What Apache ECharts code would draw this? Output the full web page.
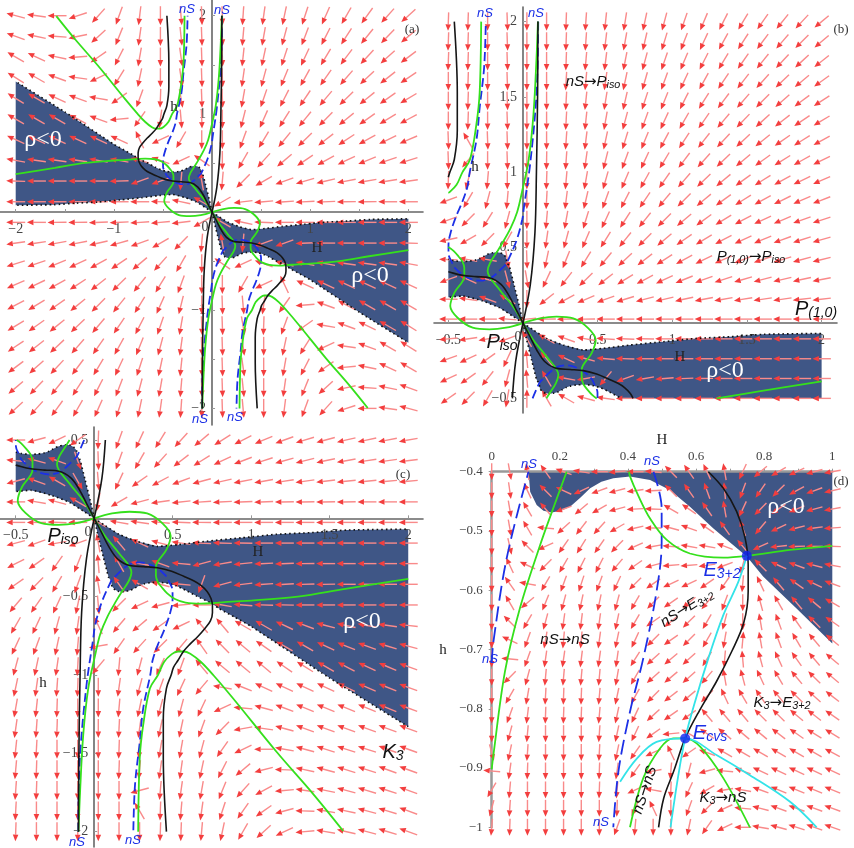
<!DOCTYPE html>
<html><head><meta charset="utf-8">
<style>html,body{margin:0;padding:0;background:#fff}#c{width:854px;height:848px}</style>
<script src="https://cdn.jsdelivr.net/npm/echarts@6/dist/echarts.min.js"></script>
</head><body><div id="c"></div>
<script>
// ---------- DATA ----------
const aCols=[-2,-1.789,-1.579,-1.368,-1.158,-0.947,-0.737,-0.526,-0.316,-0.105,0.105,0.316,0.526,0.737,0.947,1.158,1.368,1.579,1.789,2];
const aRows=[2,1.789,1.579,1.368,1.158,0.947,0.737,0.526,0.316,0.105,-0.105,-0.316,-0.526,-0.737,-0.947,-1.158,-1.368,-1.579,-1.789,-2];
const aAngles=[
[165,172,180,198,228,250,263,270,275,272,272,266,262,258,252,246,240,234,228,222],
[160,168,176,192,222,248,262,270,276,272,272,265,260,255,249,243,237,231,226,220],
[150,155,168,185,215,243,260,270,278,272,272,264,258,252,245,239,233,227,222,217],
[148,150,160,172,205,238,258,270,278,272,272,262,255,248,241,235,229,223,218,214],
[148,150,155,160,170,215,250,268,280,272,272,260,251,243,236,230,224,219,215,211],
[150,150,150,152,160,185,235,262,275,272,270,256,246,238,231,225,219,215,211,208],
[155,155,155,155,155,155,115,205,240,270,270,250,239,231,224,218,213,209,206,203],
[170,172,172,172,170,170,165,160,205,145,270,240,228,220,214,209,205,202,199,197],
[178,180,180,180,180,182,200,200,265,100,265,225,210,200,196,193,191,190,189,188],
[180,180,180,180,180,180,180,178,168,150,210,187,185,184,183,182,181,181,180,180],
[180,180,181,181,182,183,184,185,187,210,150,168,178,180,180,180,180,180,180,180],
[188,189,190,191,193,196,200,210,225,265,100,265,200,200,182,180,180,180,180,178],
[197,199,202,205,209,214,220,228,240,270,145,205,160,165,170,170,172,172,172,170],
[203,206,209,213,218,224,231,239,250,270,270,240,205,115,155,155,155,155,155,155],
[208,211,215,219,225,231,238,246,256,270,272,275,262,235,185,160,152,150,150,150],
[211,215,219,224,230,236,243,251,260,272,272,280,268,250,215,170,160,155,150,148],
[214,218,223,229,235,241,248,255,262,272,272,278,270,258,238,205,172,160,150,148],
[217,222,227,233,239,245,252,258,264,272,272,278,270,260,243,215,185,168,155,150],
[220,226,231,237,243,249,255,260,265,272,272,276,270,262,248,222,192,176,168,160],
[222,228,234,240,246,252,258,262,266,272,272,275,270,263,250,228,198,180,172,165]];

const bCols=[-0.5,-0.368,-0.237,-0.105,0.026,0.158,0.289,0.421,0.553,0.684,0.816,0.947,1.079,1.211,1.342,1.474,1.605,1.737,1.868,2];
const bRows=[2,1.868,1.737,1.605,1.474,1.342,1.211,1.079,0.947,0.816,0.684,0.553,0.421,0.289,0.158,0.026,-0.105,-0.237,-0.368,-0.5];
const bAngles=[
[268,268,270,272,270,270,268,266,264,261,258,255,251,247,243,239,235,231,227,220],
[268,268,270,272,270,270,268,266,263,260,257,253,249,245,241,237,233,229,225,220],
[268,268,270,272,270,270,268,265,263,259,255,251,247,243,239,235,231,227,223,218],
[270,268,270,272,270,270,267,265,262,258,254,250,245,241,236,232,228,224,220,216],
[270,268,270,272,270,270,267,264,261,257,252,248,243,238,233,229,225,221,217,213],
[270,268,270,272,270,270,267,264,260,255,250,245,240,235,230,226,222,218,214,211],
[272,120,272,272,270,270,266,263,258,253,248,242,237,232,227,223,219,215,212,209],
[272,230,270,272,270,269,266,262,256,250,245,239,233,228,224,220,216,212,209,206],
[268,255,265,270,270,268,265,260,254,247,241,235,229,224,220,216,212,209,206,203],
[200,240,255,265,270,267,263,257,250,243,236,230,225,220,216,212,209,206,203,201],
[200,225,238,255,270,265,260,253,245,237,231,225,220,216,212,208,205,203,200,198],
[192,210,225,240,270,262,255,247,238,231,225,220,215,211,208,205,202,200,198,196],
[178,170,170,280,272,258,248,238,230,223,218,213,209,206,203,201,199,197,195,194],
[200,155,165,285,280,245,232,224,218,212,208,205,202,200,198,196,195,193,192,191],
[180,172,160,150,270,218,208,203,200,197,195,193,192,191,190,189,188,188,187,187],
[180,180,180,175,185,181,181,181,180,180,180,180,180,180,180,180,180,180,180,180],
[185,188,190,200,120,150,160,170,176,178,179,180,180,180,180,180,180,180,180,180],
[200,205,215,245,95,130,155,165,175,178,180,180,180,180,180,180,180,180,180,180],
[205,215,232,255,95,120,170,190,230,200,190,185,182,181,180,180,180,180,180,180],
[215,225,240,260,90,120,150,165,172,180,180,180,180,180,180,180,180,180,180,180]];

const cCols=bCols;
const cRows=[0.5,0.368,0.237,0.105,-0.026,-0.158,-0.289,-0.421,-0.553,-0.684,-0.816,-0.947,-1.079,-1.211,-1.342,-1.474,-1.605,-1.737,-1.868,-2];
const cAngles=[
[180,195,205,215,268,250,245,238,228,220,212,207,203,200,197,195,193,192,191,190],
[175,165,160,290,272,250,240,228,218,212,205,201,198,196,194,192,190,189,188,187],
[195,160,150,300,275,245,215,208,200,195,193,191,190,189,188,187,186,186,185,185],
[180,170,165,150,260,210,195,188,186,184,183,182,182,181,181,181,181,180,180,180],
[180,180,178,180,150,170,172,175,178,179,180,180,180,180,180,180,180,180,180,180],
[195,200,190,200,100,130,155,165,172,177,178,179,180,180,180,180,180,180,180,180],
[207,215,235,248,95,120,170,160,175,195,190,186,183,182,181,180,180,180,180,180],
[215,225,240,250,100,125,150,165,175,250,195,187,184,183,182,181,180,180,180,180],
[230,235,245,258,275,225,205,195,185,180,170,175,178,179,180,180,180,180,180,180],
[240,245,255,262,115,230,220,215,205,130,130,150,150,155,160,165,168,170,172,174],
[245,250,258,265,190,235,228,225,230,125,135,140,145,150,150,155,158,160,163,165],
[255,258,262,267,230,265,255,245,250,130,140,140,140,145,148,150,152,155,157,160],
[258,262,266,268,270,262,255,250,245,230,170,158,155,155,155,155,155,157,158,160],
[260,264,268,270,270,265,258,255,255,245,205,175,165,160,158,158,158,158,158,160],
[262,266,268,270,270,267,262,258,258,250,225,190,172,165,160,160,160,160,160,160],
[264,267,270,270,270,268,265,260,260,255,235,205,180,170,165,162,162,162,160,160],
[265,268,270,270,270,268,265,262,262,258,243,220,195,178,168,165,163,162,160,160],
[266,268,270,270,270,270,195,265,262,260,248,228,208,185,172,168,165,163,162,160],
[267,270,270,270,270,270,120,268,265,262,252,235,215,195,178,170,168,165,163,160],
[268,270,270,270,270,270,270,268,268,265,258,240,222,205,185,170,167,165,163,160]];

const dCols=[0,0.053,0.105,0.158,0.211,0.263,0.316,0.368,0.421,0.474,0.526,0.579,0.632,0.684,0.737,0.789,0.842,0.895,0.947,1];
const dRows=[-0.4,-0.432,-0.463,-0.495,-0.526,-0.558,-0.589,-0.621,-0.653,-0.684,-0.716,-0.747,-0.779,-0.811,-0.842,-0.874,-0.905,-0.937,-0.968,-1];
const dAngles=[
[270,280,100,125,160,170,180,185,180,175,135,125,115,100,245,220,210,205,195,190],
[270,278,115,135,155,205,200,195,188,183,135,125,110,95,250,235,225,208,200,193],
[270,280,120,130,200,220,210,195,183,178,150,145,125,100,245,225,215,202,195,190],
[270,280,120,175,222,232,228,210,193,180,165,160,145,125,110,230,205,195,188,184],
[270,283,135,205,235,238,235,225,205,190,175,170,170,160,130,205,186,182,180,178],
[270,115,155,225,240,243,243,230,215,195,185,185,188,200,255,135,155,160,165,170],
[270,125,170,240,250,252,250,245,225,215,205,205,215,235,265,115,130,145,155,160],
[270,120,220,248,255,258,258,255,240,225,215,220,230,250,270,105,120,130,140,150],
[270,135,240,255,262,263,262,258,240,215,220,225,240,255,270,100,110,125,135,145],
[270,155,250,260,265,265,262,258,245,225,215,225,240,260,85,100,110,120,130,140],
[270,175,250,262,262,263,262,262,238,222,220,222,238,265,95,105,115,125,130,140],
[270,225,255,265,265,265,265,260,240,222,220,222,230,100,105,115,120,130,135,140],
[270,240,260,267,268,268,265,258,240,225,218,220,225,115,120,125,130,135,138,142],
[270,250,263,268,268,268,265,258,245,222,215,215,130,130,130,135,135,140,142,145],
[270,255,265,270,270,270,266,258,245,215,185,150,145,140,140,140,142,145,148,148],
[285,258,266,270,270,270,267,258,235,205,115,215,160,150,150,150,150,150,150,152],
[175,262,268,270,270,270,268,262,235,190,265,255,195,175,160,155,155,155,155,155],
[240,265,270,270,270,270,268,265,205,170,268,245,210,190,170,160,158,158,158,158],
[255,266,270,270,270,270,270,268,245,115,270,250,225,205,175,165,160,160,160,160],
[265,268,270,270,270,270,270,250,265,270,270,258,235,205,180,170,165,162,160,160]];

const rhoUpper=[[0,0],[0.069,-0.046],[0.158,-0.102],[0.27,-0.146],[0.404,-0.179],[0.538,-0.168],[0.717,-0.146],[0.94,-0.124],[1.163,-0.102],[1.386,-0.091],[1.61,-0.075],[2,-0.069]];
const rhoLower=[[0,0],[0.025,-0.113],[0.058,-0.246],[0.092,-0.378],[0.108,-0.4],[0.113,-0.434],[0.132,-0.456],[0.152,-0.466],[0.176,-0.469],[0.203,-0.466],[0.23,-0.459],[0.26,-0.444],[0.289,-0.428],[0.322,-0.417],[0.357,-0.411],[0.406,-0.408],[0.465,-0.414],[0.523,-0.431],[0.582,-0.459],[0.651,-0.496],[0.749,-0.543],[0.797,-0.577],[0.895,-0.631],[1,-0.69],[1.5,-1.02],[2,-1.33]];
const blackBranch=[[0,0],[0.047,-0.091],[0.092,-0.179],[0.147,-0.257],[0.225,-0.301],[0.315,-0.308],[0.404,-0.316],[0.493,-0.338],[0.57,-0.37],[0.636,-0.4],[0.68,-0.428],[0.719,-0.467],[0.744,-0.512],[0.753,-0.557],[0.753,-0.602],[0.74,-0.655],[0.705,-0.703],[0.66,-0.754],[0.61,-0.803],[0.568,-0.85],[0.534,-0.906],[0.505,-0.951],[0.49,-1],[0.46,-1.085],[0.44,-1.277],[0.44,-1.53],[0.46,-2]];
const blackAxis=[[0,0],[-0.049,-0.255],[-0.08,-0.6],[-0.09,-1],[-0.098,-1.53],[-0.1,-2]];
const greenA=[[0,0],[0.114,0.031],[0.225,0.042],[0.337,0.031],[0.438,-0.035],[0.487,-0.113],[0.46,-0.2],[0.393,-0.31],[0.393,-0.367],[0.406,-0.408],[0.43,-0.44],[0.465,-0.479],[0.514,-0.515],[0.582,-0.538],[0.68,-0.545],[0.749,-0.542],[0.876,-0.532],[1,-0.525],[1.297,-0.5],[1.6,-0.45],[2,-0.387]];
const greenB=[[0,0],[0.069,-0.113],[0.158,-0.223],[0.237,-0.345],[0.22,-0.4],[0.176,-0.469],[0.142,-0.524],[0.083,-0.63],[0.039,-0.737],[0.005,-0.878],[-0.038,-1.085],[-0.07,-1.383],[-0.09,-1.745],[-0.1,-2]];
const greenC=[[0.28,-2],[0.29,-1.532],[0.312,-1.319],[0.355,-1.085],[0.406,-1],[0.445,-0.917],[0.494,-0.867],[0.533,-0.85],[0.568,-0.85],[0.612,-0.864],[0.68,-0.917],[0.758,-1],[0.885,-1.15],[1.161,-1.49],[1.395,-1.76],[1.586,-1.996]];
const blueNS=[[-0.102,-2],[-0.091,-1.532],[-0.049,-1.064],[-0.006,-0.766],[0.005,-0.687],[0.044,-0.546],[0.108,-0.4],[0.121,-0.383],[0.217,-0.298],[0.291,-0.281],[0.386,-0.309],[0.46,-0.37],[0.475,-0.4],[0.499,-0.462],[0.499,-0.518],[0.484,-0.602],[0.445,-0.715],[0.406,-0.805],[0.372,-0.906],[0.357,-1],[0.312,-1.213],[0.29,-1.43],[0.26,-1.7],[0.249,-2]];
const cyanA=[[0.749,-0.542],[0.724,-0.586],[0.68,-0.642],[0.636,-0.715],[0.597,-0.788],[0.568,-0.85],[0.548,-0.912],[0.525,-1]];
const cyanB=[[0.377,-0.923],[0.426,-0.884],[0.484,-0.856],[0.568,-0.85],[0.66,-0.878],[0.758,-0.912],[0.876,-0.957],[0.954,-1]];
const equilibria=[[0.749,-0.542],[0.568,-0.85]];

const aXTicks=[-2,-1,1,2], aYTicks=[-2,-1,1,2];
const bXTicks=[-0.5,0.5,1,1.5,2], bYTicks=[-0.5,0.5,1,1.5,2];
const cXTicks=[-0.5,0.5,1,1.5,2], cYTicks=[-2,-1.5,-1,-0.5,0.5];
const dXTicks=[0,0.2,0.4,0.6,0.8,1], dYTicks=[-1,-0.9,-0.8,-0.7,-0.6,-0.5,-0.4];

// ---------- helpers ----------
const neg=p=>p.map(q=>[-q[0],-q[1]]);
const RED='#f33e3e', NAVY='#3f5686', GREEN='#35e01c', BLUE='#1c30e6', CYAN='#33e3e8', BLACK='#161616';
function clipLine(pts,b){ // Liang-Barsky, returns visible runs
  const runs=[];let cur=null;
  for(let i=0;i<pts.length-1;i++){
    const [x0,y0]=pts[i],[x1,y1]=pts[i+1],dx=x1-x0,dy=y1-y0;
    let t0=0,t1=1,ok=true;
    [[-dx,x0-b.x0],[dx,b.x1-x0],[-dy,y0-b.y0],[dy,b.y1-y0]].forEach(([p,q])=>{
      if(p===0){if(q<0)ok=false;}
      else{const r=q/p;if(p<0)t0=Math.max(t0,r);else t1=Math.min(t1,r);}
    });
    if(!ok||t0>t1){cur=null;continue;}
    const A=[x0+t0*dx,y0+t0*dy],B=[x0+t1*dx,y0+t1*dy];
    if(cur&&t0===0)cur.push(B);else{cur=[A,B];runs.push(cur);}
    if(t1<1)cur=null;
  }
  return runs;
}
function clipPoly(pts,b){ // Sutherland-Hodgman
  const edges=[[q=>q[0]>=b.x0,0,b.x0],[q=>q[0]<=b.x1,0,b.x1],[q=>q[1]>=b.y0,1,b.y0],[q=>q[1]<=b.y1,1,b.y1]];
  let out=pts;
  edges.forEach(([ins,ax,v])=>{
    const inp=out;out=[];
    inp.forEach((q,i)=>{
      const p=inp[(i+inp.length-1)%inp.length];
      const qi=ins(q),pi=ins(p);
      if(qi!==pi){const t=(v-p[ax])/(q[ax]-p[ax]);out.push([p[0]+t*(q[0]-p[0]),p[1]+t*(q[1]-p[1])]);}
      if(qi)out.push(q);
    });
  });
  return out;
}
const panels=[
 {cols:aCols,rows:aRows,ang:aAngles,len:19,b:{x0:-2,x1:2,y0:-2,y1:2},
  grid:{left:0,top:0,width:423,height:425},xr:[-2.16,2.149],yr:[-2.169,2.16],xt:aXTicks,yt:aYTicks,
  xm:[-2,-1.5,-1,-0.5,0.5,1,1.5,2],ym:[-2,-1.5,-1,-0.5,0.5,1,1.5,2]},
 {cols:bCols,rows:bRows,ang:bAngles,len:18.5,b:{x0:-0.5,x1:2,y0:-0.5,y1:2},
  grid:{left:434,top:7,width:403,height:406},xr:[-0.596,2.103],yr:[-0.597,2.097],xt:bXTicks,yt:bYTicks,
  xm:bXTicks,ym:bYTicks},
 {cols:cCols,rows:cRows,ang:cAngles,len:19,b:{x0:-0.5,x1:2,y0:-2,y1:0.5},
  grid:{left:0,top:427,width:423,height:420},xr:[-0.6,2.094],yr:[-2.098,0.583],xt:cXTicks,yt:cYTicks,
  xm:cXTicks,ym:cYTicks},
 {cols:dCols,rows:dRows,ang:dAngles,len:17,b:{x0:0,x1:1,y0:-1,y1:-0.4},
  grid:{left:491.7,top:471.7,width:340.6,height:355.6},xr:[0,1],yr:[-1,-0.4],xt:dXTicks,yt:dYTicks,
  xm:[0,0.1,0.2,0.3,0.4,0.5,0.6,0.7,0.8,0.9,1],ym:dYTicks,top:true}
];
const fmt=v=>String(v).replace('-','\u2212');
const series=[],grids=[],xAxes=[],yAxes=[];
panels.forEach((P,i)=>{
  grids.push({...P.grid,outerBoundsMode:'none',containLabel:false});
  const AL={show:true,onZero:!P.top,lineStyle:{color:P.top?'#999':'#666',width:P.top?2.5:1.6}};
  const lab={color:'#444',fontFamily:'Liberation Serif',fontSize:P.top?13:14,formatter:fmt};
  // tick labels sit beside the zero lines in panels a-c, so their margins reach in from the grid edge
  const zeroY=P.grid.height*P.yr[1]/(P.yr[1]-P.yr[0]);
  const zeroX=P.grid.width*(-P.xr[0])/(P.xr[1]-P.xr[0]);
  const xMargin=P.top?9:zeroY-P.grid.height+10;
  const yMargin=P.top?9:6-zeroX;
  xAxes.push({type:'value',gridIndex:i,min:P.xr[0],max:P.xr[1],position:P.top?'top':'bottom',z:2,
    axisLine:AL,splitLine:{show:false},
    axisTick:{show:true,inside:!P.top,length:3,lineStyle:{color:'#999'},customValues:P.xm},
    axisLabel:{...lab,margin:xMargin,hideOverlap:false,customValues:P.xt}});
  yAxes.push({type:'value',gridIndex:i,min:P.yr[0],max:P.yr[1],position:'left',z:2,
    axisLine:AL,splitLine:{show:false},
    axisTick:{show:true,inside:!P.top,length:3,lineStyle:{color:'#999'},customValues:P.ym},
    axisLabel:{...lab,margin:yMargin,hideOverlap:false,customValues:P.yt}});
  const base={xAxisIndex:i,yAxisIndex:i,silent:true,animation:false};
  // rho<0 regions
  const right=rhoUpper.concat(rhoLower.slice(1).reverse());
  [right,neg(right)].forEach(poly=>{
    const cp=clipPoly(poly,P.b);
    if(cp.length<3)return;
    series.push({...base,type:'custom',z:1,data:cp,
      renderItem:(p,api)=>p.dataIndex?null:({type:'polygon',shape:{points:cp.map(q=>api.coord(q))},style:{fill:NAVY}})});
  });
  // vector field
  const field=[];
  P.rows.forEach((h,r)=>P.cols.forEach((H,c)=>field.push([H,h,P.ang[r][c]])));
  series.push({...base,type:'custom',z:3,data:field,
    renderItem:(p,api)=>{
      const o=api.coord([api.value(0),api.value(1)]),t=api.value(2)*Math.PI/180;
      const ux=Math.cos(t),uy=-Math.sin(t),L=P.len/2,hl=6.5,hw=2.8;
      const tip=[o[0]+ux*L,o[1]+uy*L],tail=[o[0]-ux*L,o[1]-uy*L],bs=[tip[0]-ux*hl,tip[1]-uy*hl];
      return {type:'group',children:[
        {type:'line',shape:{x1:tail[0],y1:tail[1],x2:bs[0],y2:bs[1]},style:{stroke:'#f98a8a',lineWidth:1.4}},
        {type:'polygon',shape:{points:[tip,[bs[0]-uy*hw,bs[1]+ux*hw],[bs[0]+uy*hw,bs[1]-ux*hw]]},style:{fill:RED}}
      ]};
    }});
  // curves
  const addLine=(pts,st,smooth)=>clipLine(pts,P.b).forEach(run=>{
    if(run.length<2)return;
    series.push({...base,type:'line',z:4,data:run,showSymbol:false,symbol:'none',smooth:smooth,lineStyle:st,clip:false});
  });
  if(!P.top){
    const dot={color:'#111',width:1.6,type:[1.6,3]};
    [rhoUpper,rhoLower,neg(rhoUpper),neg(rhoLower)].forEach(s=>addLine(s,dot,0.2));
  }
  const blue={color:BLUE,width:1.8,type:P.top?[15,6]:[9,4]};
  const gr={color:GREEN,width:1.8},bk={color:BLACK,width:1.6};
  [blueNS,neg(blueNS)].forEach(s=>addLine(s,blue,0.35));
  [greenA,neg(greenA),greenB,neg(greenB),greenC,neg(greenC)].forEach(s=>addLine(s,gr,0.35));
  [blackBranch,neg(blackBranch),blackAxis,neg(blackAxis)].forEach(s=>addLine(s,bk,0.35));
  if(P.top){
    [cyanA,cyanB].forEach(s=>addLine(s,{color:CYAN,width:1.8},0.35));
    series.push({...base,type:'scatter',z:5,data:equilibria,symbol:'circle',symbolSize:10,itemStyle:{color:'#1020f0'},clip:false});
  }
});
// ---------- text ----------
const SERIF='"Liberation Serif"',SANS='"Liberation Sans"',ARW='{a|\u2192}';
function T(text,x,y,o){o=o||{};
  const size=o.size||14,fam=o.fam||SERIF,ital=o.ital?'italic ':'',col=o.col||'#222',s2=o.sub||size*0.72;
  return {type:'text',x:x,y:y,rotation:(o.rot||0)*Math.PI/180,z:20,silent:true,
    style:{text:text,font:ital+size+'px '+fam,fill:col,align:'center',verticalAlign:'middle',
      rich:{s:{font:ital+s2+'px '+fam,fill:col,padding:[size*0.45,0,0,0]},
            n:{font:ital+size+'px '+fam,fill:col},
            a:{font:size+'px "DejaVu Sans"',fill:col}}}};
}
const nS=(x,y)=>T('nS',x,y,{size:13,fam:SANS,ital:true,col:BLUE});
const it=(t,x,y,o)=>T(t,x,y,Object.assign({size:15,fam:SANS,ital:true,col:'#111'},o||{}));
const W=(x,y,s)=>T('\u03c1<0',x,y,{size:s||24,col:'#fff'});
const graphics=[
 T('(a)',412,30,{size:13,col:'#333'}),nS(187,9),nS(222,10),nS(200,419),nS(235,417),
 T('h',174,107,{size:15}),T('H',317,248,{size:15}),W(43,140),W(370,276),T('0',205,227,{col:'#444'}),
 T('(b)',841,30,{size:13,col:'#333'}),nS(485,13),nS(536,13),
 it('{n|nS}'+ARW+'{n|P}{s|iso}',593,82),it('{n|P}{s|(1,0)}'+ARW+'{n|P}{s|iso}',751,257),
 it('{n|P}{s|(1,0)}',816,309,{size:20,sub:14}),it('{n|P}{s|iso}',502,342,{size:20,sub:14}),
 T('h',475,167,{size:15}),T('H',680,357,{size:15}),W(725,371),T('0',518,337,{col:'#444'}),
 T('(c)',403,475,{size:13,col:'#333'}),nS(77,842),nS(133,840),it('{n|P}{s|iso}',63,536,{size:20,sub:14}),
 T('H',258,552,{size:15}),T('h',43,683,{size:15}),W(362,622),it('{n|K}{s|3}',393,752,{size:20,sub:14}),T('0',88,532,{col:'#444'}),
 T('H',662,440,{size:15}),T('h',443,650,{size:15}),T('(d)',841,482,{size:13,col:'#333'}),
 nS(529,464),nS(652,461),nS(490,659),nS(601,822),W(786,507),
 it('{n|E}{s|3+2}',722,570,{size:20,sub:14,col:BLUE}),it('{n|E}{s|cvs}',710,733,{size:20,sub:14,col:BLUE}),
 it('{n|nS}'+ARW+'{n|nS}',565,640),it('{n|nS}'+ARW+'{n|E}{s|3+2}',687,608,{rot:32}),it('{n|K}{s|3}'+ARW+'{n|E}{s|3+2}',782,703),
 it('{n|nS}'+ARW+'{n|nS}',645,790,{rot:72}),it('{n|K}{s|3}'+ARW+'{n|nS}',723,798)
];
const chart=echarts.init(document.getElementById('c'),null,{renderer:'canvas'});
chart.setOption({animation:false,backgroundColor:'#fff',tooltip:{show:false},
  grid:grids,xAxis:xAxes,yAxis:yAxes,series:series,graphic:{elements:graphics}});
</script></body></html>
